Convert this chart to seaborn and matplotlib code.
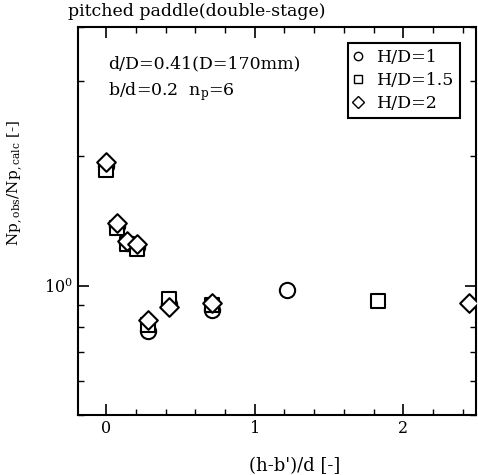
import matplotlib
matplotlib.use("Agg")
import matplotlib.pyplot as plt
import seaborn as sns
import pandas as pd
from matplotlib.ticker import NullFormatter, FixedLocator, MultipleLocator
from matplotlib.lines import Line2D

# (h-b')/d and Np ratio for each liquid height
x_hd1 = [0.0, 0.07, 0.14, 0.21, 0.28, 0.42, 0.71, 1.22]
y_hd1 = [1.90, 1.38, 1.26, 1.23, 0.786, 0.908, 0.88, 0.979]
x_hd15 = [0.0, 0.07, 0.14, 0.21, 0.28, 0.42, 0.71, 1.83]
y_hd15 = [1.86, 1.36, 1.25, 1.22, 0.81, 0.933, 0.90, 0.923]
x_hd2 = [0.0, 0.07, 0.14, 0.21, 0.28, 0.42, 0.71, 2.44]
y_hd2 = [1.94, 1.40, 1.27, 1.25, 0.834, 0.894, 0.913, 0.912]
series_labels = ["H/D=1", "H/D=1.5", "H/D=2"]

df = pd.concat([
    pd.DataFrame({"x": x_hd1, "y": y_hd1, "HD": series_labels[0]}),
    pd.DataFrame({"x": x_hd15, "y": y_hd15, "HD": series_labels[1]}),
    pd.DataFrame({"x": x_hd2, "y": y_hd2, "HD": series_labels[2]}),
])

sns.set_style("ticks")
plt.rcParams["font.family"] = ["DejaVu Serif"]
plt.rcParams["mathtext.fontset"] = "dejavuserif"
for key in ("text.color", "axes.labelcolor", "xtick.color", "ytick.color",
            "xtick.labelcolor", "ytick.labelcolor", "axes.edgecolor"):
    plt.rcParams[key] = "black"

fig = plt.figure(figsize=(4.78, 4.75), dpi=100)
ax = fig.add_axes([0.163, 0.126, 0.833, 0.817])

markers = {series_labels[0]: "o", series_labels[1]: "s", series_labels[2]: "D"}
sizes = {series_labels[0]: 11, series_labels[1]: 9.5, series_labels[2]: 9.5}
for lab in series_labels:
    sub = df[df["HD"] == lab]
    sns.scatterplot(data=sub, x="x", y="y", marker=markers[lab], s=sizes[lab] ** 2,
                    facecolor="white", edgecolor="black", linewidth=1.5, ax=ax,
                    legend=False, zorder=3)

ax.set_yscale("log")
ax.set_xlim(-0.19, 2.49)
ax.set_ylim(0.5, 4.0)
ax.yaxis.set_major_locator(FixedLocator([1.0]))
ax.yaxis.set_minor_locator(FixedLocator([0.5, 0.6, 0.7, 0.8, 0.9, 2, 3, 4]))
ax.yaxis.set_minor_formatter(NullFormatter())
ax.set_yticklabels([r"$10^0$"])
ax.xaxis.set_major_locator(FixedLocator([0, 1, 2]))
ax.xaxis.set_minor_locator(MultipleLocator(0.2))
ax.set_xticklabels(["0", "1", "2"])

ax.tick_params(which="both", direction="in", top=True, right=True, labelsize=11.5,
               color="black", labelcolor="black")
ax.tick_params(which="major", length=8, width=1.2)
ax.tick_params(which="minor", length=4, width=1.0)
for sp in ax.spines.values():
    sp.set_linewidth(1.5)
    sp.set_color("black")

ax.set_xlabel("(h-b')/d [-]", fontsize=13, color="black")
ax.xaxis.set_label_coords(0.545, -0.108)
ax.set_ylabel(r"Np$_{,\mathrm{obs}}$/Np$_{,\mathrm{calc}}$ [-]", fontsize=11, color="black")
ax.yaxis.set_label_coords(-0.132, 0.598)

fig.text(0.142, 0.975, "pitched paddle(double-stage)", fontsize=12.5, va="center",
         ha="left", color="black")
ax.text(0.075, 0.905, "d/D=0.41(D=170mm)", transform=ax.transAxes, fontsize=12.5,
        va="center", color="black")
ax.text(0.075, 0.835, r"b/d=0.2  n$_\mathrm{p}$=6", transform=ax.transAxes, fontsize=12.5,
        va="center", color="black")

handles = [Line2D([], [], linestyle="none", marker=markers[l], markersize=6,
                  markerfacecolor="white", markeredgecolor="black", markeredgewidth=1.0,
                  label=l) for l in series_labels]
leg = ax.legend(handles=handles, loc="upper right", bbox_to_anchor=(0.960, 0.959),
                fontsize=12.5, frameon=True, fancybox=False, framealpha=1,
                edgecolor="black", borderpad=0.35, labelspacing=0.35,
                handlelength=0.5, handletextpad=0.8, borderaxespad=0, labelcolor="black")
leg.get_frame().set_linewidth(1.5)

fig.savefig("out.png", dpi=100)
